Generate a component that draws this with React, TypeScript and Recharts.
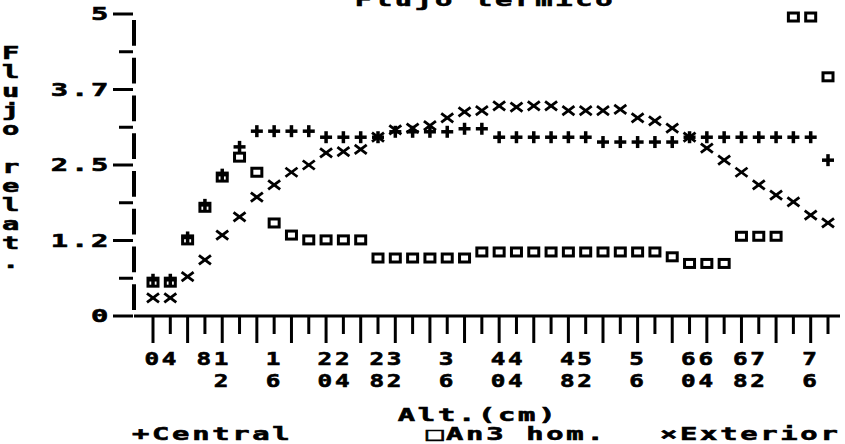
import * as React from "react";
import { Line, LineChart, XAxis, YAxis } from "recharts";

// measurement number along the column (40 readings)
const medida = [
  1, 2, 3, 4, 5, 6, 7, 8, 9, 10, 11, 12, 13, 14, 15, 16, 17, 18, 19, 20,
  21, 22, 23, 24, 25, 26, 27, 28, 29, 30, 31, 32, 33, 34, 35, 36, 37, 38, 39, 40,
];

// altitude labels as the plotter printed them under the ticks ("" = no label)
const altLabels = [
  "0", "4", "", "8", "12", "", "", "16", "", "", "20", "24", "", "28", "32", "", "", "36", "", "",
  "40", "44", "", "", "48", "52", "", "", "56", "", "", "60", "64", "", "68", "72", "", "", "76", "",
];

const central = [
  0.6, 0.6, 1.3, 1.84, 2.34, 2.8, 3.06, 3.06, 3.06, 3.06,
  2.96, 2.96, 2.96, 2.96, 3.05, 3.05, 3.05, 3.05, 3.1, 3.1,
  2.96, 2.96, 2.96, 2.96, 2.96, 2.96, 2.88, 2.88, 2.88, 2.88,
  2.88, 2.96, 2.96, 2.96, 2.96, 2.96, 2.96, 2.96, 2.96, 2.58,
];

const an3 = [
  0.56, 0.56, 1.26, 1.8, 2.3, 2.63, 2.38, 1.54, 1.34, 1.26,
  1.26, 1.26, 1.26, 0.96, 0.96, 0.96, 0.96, 0.96, 0.96, 1.06,
  1.06, 1.06, 1.06, 1.06, 1.06, 1.06, 1.06, 1.06, 1.06, 1.06,
  0.98, 0.87, 0.87, 0.87, 1.32, 1.32, 1.32, 4.95, 4.95, 3.96,
];

const exterior = [
  0.3, 0.3, 0.65, 0.93, 1.34, 1.64, 1.97, 2.17, 2.38, 2.5,
  2.7, 2.72, 2.76, 2.96, 3.08, 3.11, 3.15, 3.28, 3.38, 3.4,
  3.48, 3.46, 3.48, 3.48, 3.4, 3.4, 3.4, 3.42, 3.28, 3.23,
  3.11, 2.96, 2.78, 2.58, 2.38, 2.17, 2.0, 1.89, 1.67, 1.54,
];

const yTicks = [0, 0.625, 1.25, 1.875, 2.5, 3.125, 3.75, 4.375, 5];
const yTickLabels = ["0", "", "1.2", "", "2.5", "", "3.7", "", "5"];

const title = "Flujo térmico";
const yTitle = "Flujo relat.";
const xTitle = "Alt.(cm)";
const legendNames = ["+Central", "□An3 hom.", "×Exterior"];

const INK = "#000";

// chunky wide glyphs, like the old plotter font
function PixText({ x, y, anchor = "start", sx = 1.6, children }: any) {
  return (
    <text
      transform={`translate(${x},${y}) scale(${sx},1)`}
      textAnchor={anchor}
      fontFamily="'DejaVu Sans Mono', monospace"
      fontWeight="bold"
      fontSize={18}
      letterSpacing={1.7}
      fill={INK}
      stroke={INK}
      strokeWidth={0.6}
    >
      {children}
    </text>
  );
}

function XTick(props: any) {
  const { x, y, payload } = props;
  const k = medida.indexOf(payload.value);
  const long = k % 2 === 0;
  const label = altLabels[k] ?? "";
  return (
    <g>
      <line x1={x} x2={x} y1={y} y2={y + (long ? 27 : 18)} stroke={INK} strokeWidth={3} />
      {label.split("").map((ch, r) => (
        <PixText key={r} x={x} y={y + 49 + r * 22} anchor="middle" sx={1.35}>
          {ch}
        </PixText>
      ))}
    </g>
  );
}

function YTick(props: any) {
  const { x, y, payload } = props;
  const k = yTicks.indexOf(payload.value);
  const label = yTickLabels[k] ?? "";
  const major = label !== "";
  return (
    <g>
      <line x1={x - (major ? 21 : 15)} x2={x - 1} y1={y} y2={y} stroke={INK} strokeWidth={3} />
      {major && (
        <PixText x={x - 23} y={y + 6} anchor="end">
          {label}
        </PixText>
      )}
    </g>
  );
}

const plusDot = (p: any) => (
  <g key={`c-${p.index}`}>
    <rect x={p.cx - 6} y={p.cy - 1.75} width={12} height={3.5} fill={INK} />
    <rect x={p.cx - 1.75} y={p.cy - 6} width={3.5} height={12} fill={INK} />
  </g>
);

const squareDot = (p: any) => (
  <rect
    key={`a-${p.index}`}
    x={p.cx - 5}
    y={p.cy - 4}
    width={10}
    height={8}
    fill="none"
    stroke={INK}
    strokeWidth={3}
  />
);

const crossDot = (p: any) => (
  <g key={`e-${p.index}`} stroke={INK} strokeWidth={2.8}>
    <line x1={p.cx - 6} y1={p.cy - 4.5} x2={p.cx + 6} y2={p.cy + 4.5} />
    <line x1={p.cx - 6} y1={p.cy + 4.5} x2={p.cx + 6} y2={p.cy - 4.5} />
  </g>
);

export default function App() {
  const data = medida.map((m, k) => ({
    m,
    central: central[k],
    an3: an3[k],
    exterior: exterior[k],
  }));

  return (
    <div
      style={{
        position: "absolute",
        left: 0,
        top: 0,
        width: 845,
        height: 444,
        background: "#fff",
        overflow: "hidden",
      }}
    >
      <LineChart width={845} height={444} data={data} margin={{ top: 14, right: 5, bottom: 68, left: 14 }}>
        <XAxis
          dataKey="m"
          type="category"
          height={60}
          padding={{ left: 19, right: 12 }}
          interval={0}
          tickSize={0}
          tickMargin={0}
          tickLine={false}
          axisLine={{ stroke: INK, strokeWidth: 3 }}
          tick={<XTick />}
        />
        <YAxis
          type="number"
          domain={[0, 5]}
          ticks={yTicks}
          interval={0}
          width={120}
          tickSize={0}
          tickMargin={0}
          tickLine={false}
          axisLine={{ stroke: INK, strokeWidth: 4, strokeDasharray: "0 6 25.75 6" }}
          tick={<YTick />}
        />
        <Line dataKey="an3" name="An3 hom." stroke="none" dot={squareDot} activeDot={false} isAnimationActive={false} />
        <Line dataKey="central" name="Central" stroke="none" dot={plusDot} activeDot={false} isAnimationActive={false} />
        <Line dataKey="exterior" name="Exterior" stroke="none" dot={crossDot} activeDot={false} isAnimationActive={false} />
      </LineChart>

      <svg width={845} height={444} style={{ position: "absolute", left: 0, top: 0, pointerEvents: "none" }}>
        <PixText x={485} y={6} anchor="middle">{title}</PixText>
        {yTitle.split("").map((ch, r) =>
          ch === " " ? null : (
            <PixText key={r} x={12} y={59 + r * 19} anchor="middle">
              {ch}
            </PixText>
          ),
        )}
        <PixText x={478} y={421} anchor="middle">{xTitle}</PixText>
        <PixText x={132} y={440}>{legendNames[0]}</PixText>
        <PixText x={426} y={440}>{legendNames[1]}</PixText>
        <PixText x={660} y={440}>{legendNames[2]}</PixText>
      </svg>
    </div>
  );
}
